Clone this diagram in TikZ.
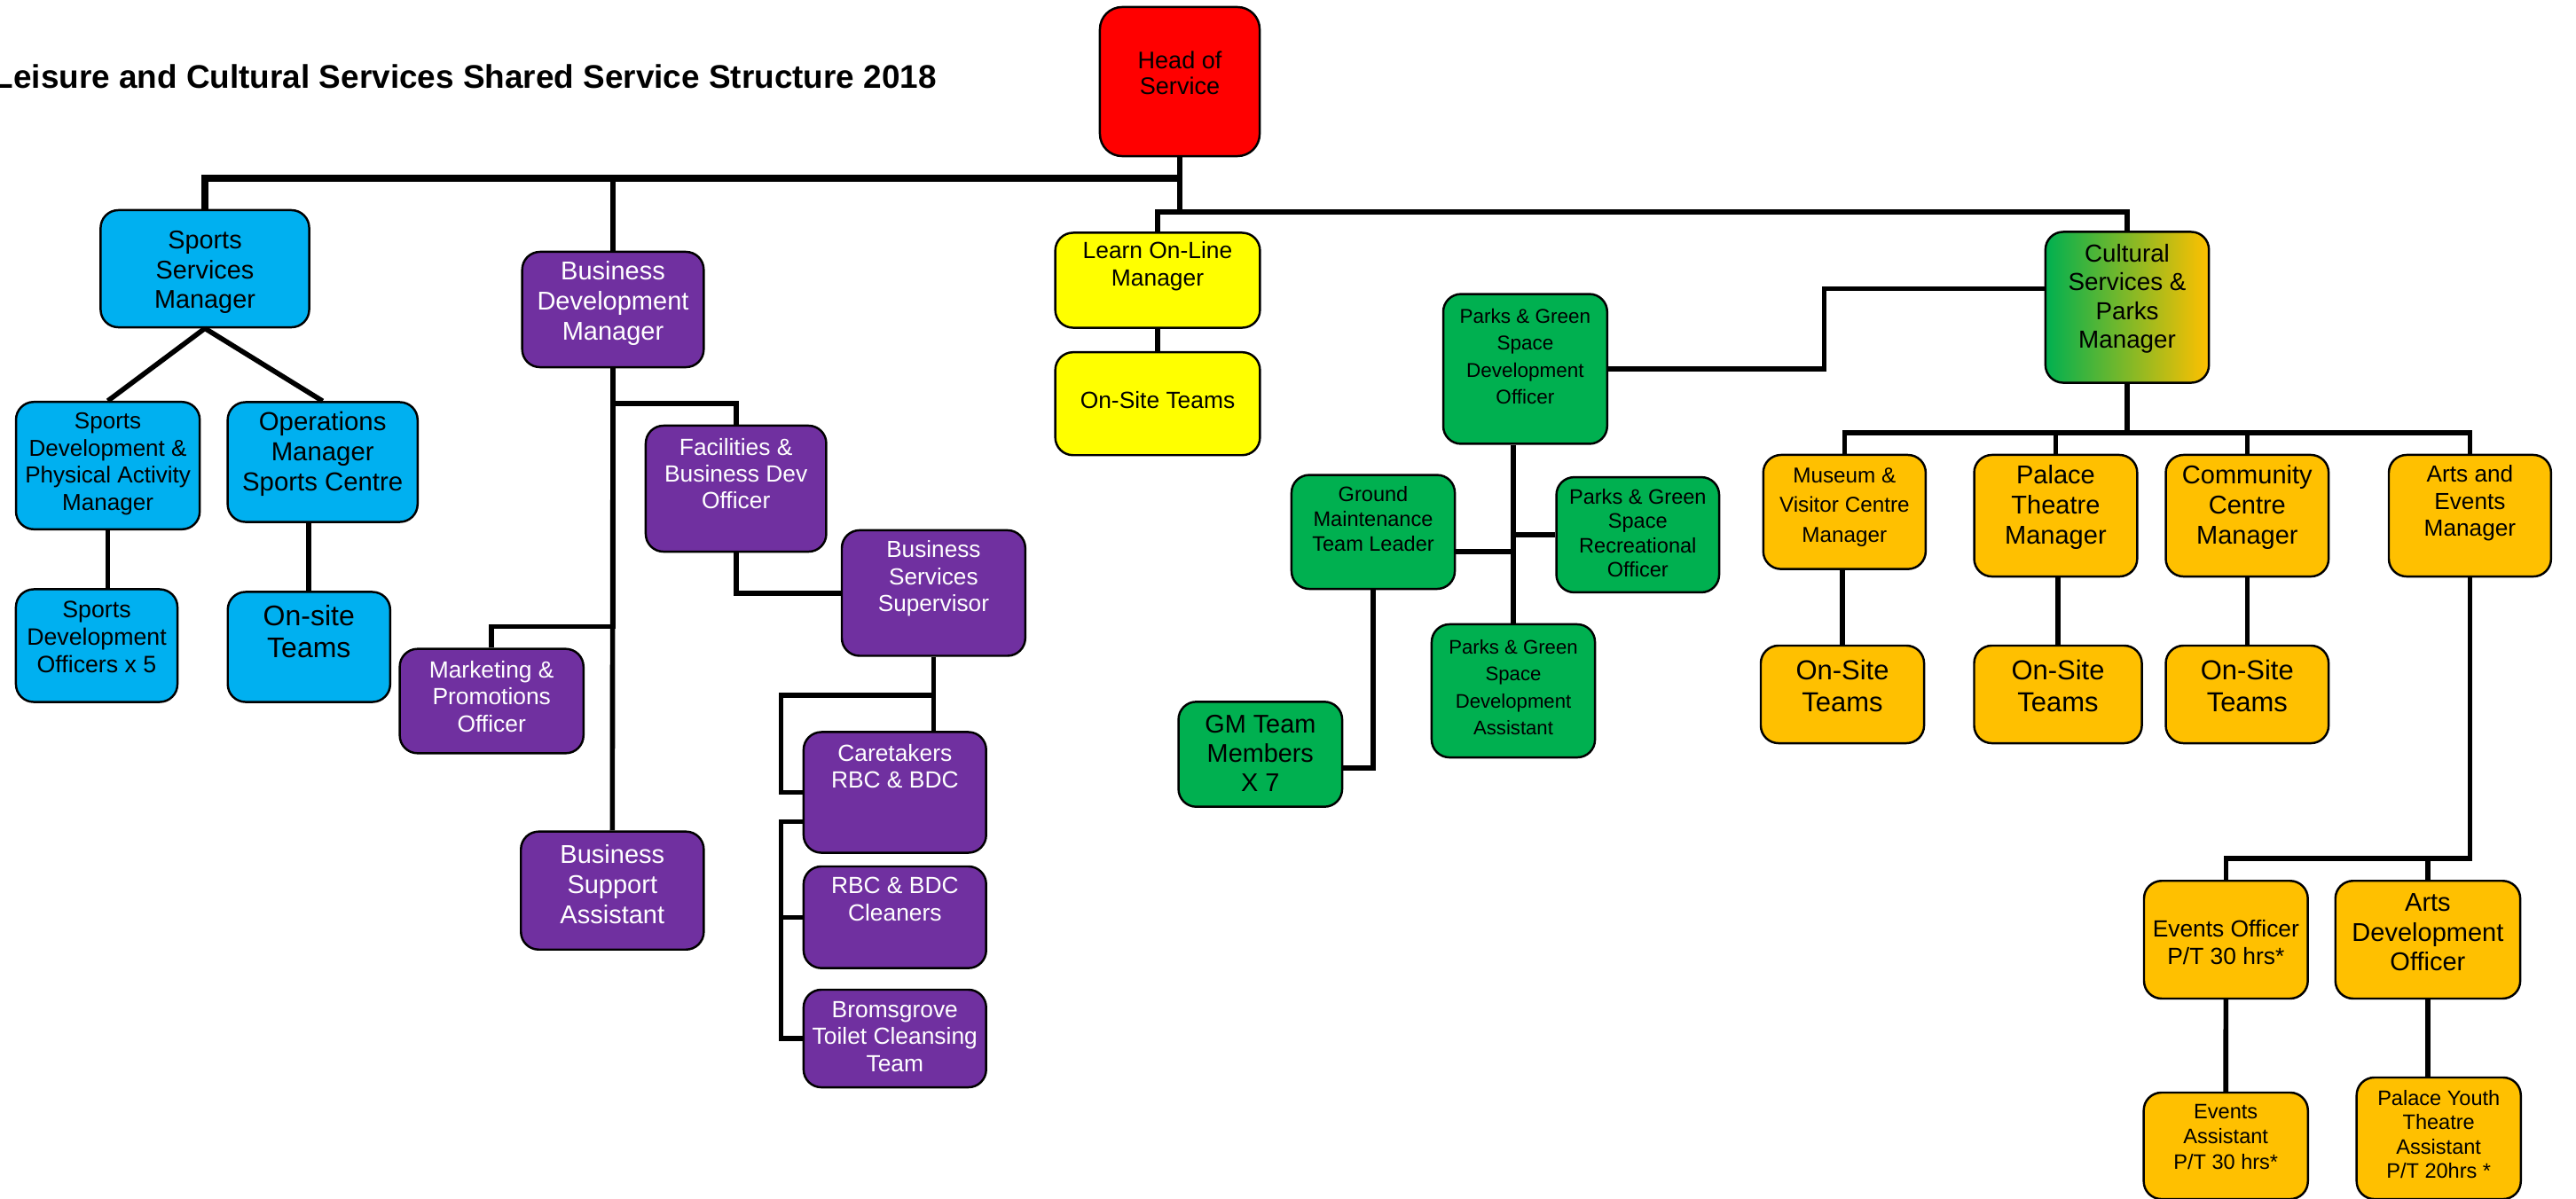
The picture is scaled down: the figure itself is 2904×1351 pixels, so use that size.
\documentclass[tikz,border=0pt]{standalone}
\usepackage{fontspec}
\setmainfont{Liberation Sans}
\usepackage{xcolor}
\usepackage{tikz}
\usetikzlibrary{positioning,calc}

\definecolor{hosred}{HTML}{FF0000}
\definecolor{sportblue}{HTML}{00B0F0}
\definecolor{bizpurple}{HTML}{7030A0}
\definecolor{learnyellow}{HTML}{FFFF00}
\definecolor{parkgreen}{HTML}{00B050}
\definecolor{cultamber}{HTML}{FFC000}

\begin{document}
\begin{tikzpicture}[x=0.01cm, y=-0.01cm,
  box/.style={rectangle, draw, rounded corners=2mm, line width=0.7pt, inner sep=0pt},
  sport/.style={box, fill=sportblue},
  biz/.style={box, fill=bizpurple},
  learnbox/.style={box, fill=learnyellow},
  park/.style={box, fill=parkgreen},
  cult/.style={box, fill=cultamber},
  lbl/.style={align=center, inner sep=0pt},
  wlbl/.style={lbl, text=white},
  link/.style={line width=1.6pt},
  bar/.style={line width=2.2pt}
]
\useasboundingbox (0,0) rectangle (2904,1351);

% Title
\node[anchor=base west, inner sep=0pt, font=\bfseries\fontsize{10.5}{12}\selectfont] (title) at (-8,99)
  {Leisure and Cultural Services Shared Service Structure 2018};

% Head of service
\node[box, fill=hosred, rounded corners=2.5mm, minimum width=1.8cm, minimum height=1.68cm] (head) at (1330,92) {};
\node[lbl, font=\fontsize{7.7}{8.3}\selectfont] (head-t) at (1330,82.5) {Head of\\Service};

% Sports services (blue)
\node[sport, minimum width=2.35cm, minimum height=1.32cm] (ssm) at (231,303) {};
\node[lbl, font=\fontsize{8.2}{9.5}\selectfont] (ssm-t) at (231,307) {Sports\\Services\\Manager};
\node[sport, minimum width=2.07cm, minimum height=1.435cm] (sdpa) at (121.6,525) {};
\node[lbl, font=\fontsize{7.4}{8.7}\selectfont] (sdpa-t) at (121.6,523) {Sports\\Development \&\\Physical Activity\\Manager};
\node[sport, minimum width=2.14cm, minimum height=1.35cm] (ops) at (363.7,521) {};
\node[lbl, font=\fontsize{8.35}{9.6}\selectfont] (ops-t) at (363.7,512) {Operations\\Manager\\Sports Centre};
\node[sport, minimum width=1.82cm, minimum height=1.27cm] (sdo) at (109,728) {};
\node[lbl, font=\fontsize{7.6}{8.8}\selectfont] (sdo-t) at (109,718) {Sports\\Development\\Officers x 5};
\node[sport, minimum width=1.83cm, minimum height=1.24cm] (onsite1) at (348.3,729.5) {};
\node[lbl, font=\fontsize{9.1}{10.4}\selectfont] (onsite1-t) at (348.3,712) {On-site\\Teams};

% Business development (purple)
\node[biz, minimum width=2.045cm, minimum height=1.3cm] (bdm) at (691,349) {};
\node[wlbl, font=\fontsize{8.25}{9.7}\selectfont] (bdm-t) at (691,342) {Business\\Development\\Manager};
\node[biz, minimum width=2.034cm, minimum height=1.42cm] (fac) at (829.7,551) {};
\node[wlbl, font=\fontsize{7.5}{8.6}\selectfont] (fac-t) at (829.7,534) {Facilities \&\\Business Dev\\Officer};
\node[biz, minimum width=2.067cm, minimum height=1.415cm] (bss) at (1052.4,668.7) {};
\node[wlbl, font=\fontsize{7.45}{8.7}\selectfont] (bss-t) at (1052.4,652.5) {Business\\Services\\Supervisor};
\node[biz, minimum width=2.057cm, minimum height=1.36cm] (care) at (1008.8,893.5) {};
\node[wlbl, font=\fontsize{7.5}{8.7}\selectfont] (care-t) at (1008.8,864) {Caretakers\\RBC \& BDC};
\node[biz, minimum width=2.057cm, minimum height=1.146cm] (clean) at (1008.8,1034.3) {};
\node[wlbl, font=\fontsize{7.5}{8.7}\selectfont] (clean-t) at (1008.8,1014) {RBC \& BDC\\Cleaners};
\node[biz, minimum width=2.057cm, minimum height=1.1cm] (toilet) at (1008.8,1171) {};
\node[wlbl, font=\fontsize{7.5}{8.7}\selectfont] (toilet-t) at (1008.8,1169) {Bromsgrove\\Toilet Cleansing\\Team};
\node[biz, minimum width=2.07cm, minimum height=1.176cm] (mkt) at (554.2,790.5) {};
\node[wlbl, font=\fontsize{7.5}{8.7}\selectfont] (mkt-t) at (554.2,785.5) {Marketing \&\\Promotions\\Officer};
\node[biz, minimum width=2.06cm, minimum height=1.33cm] (bsa) at (690.3,1004.2) {};
\node[wlbl, font=\fontsize{8.25}{9.7}\selectfont] (bsa-t) at (690.3,997) {Business\\Support\\Assistant};

% Learn on-line (yellow)
\node[learnbox, minimum width=2.306cm, minimum height=1.07cm] (learn) at (1305,316) {};
\node[lbl, font=\fontsize{7.5}{8.7}\selectfont] (learn-t) at (1305,300) {Learn On-Line\\Manager};
\node[learnbox, minimum width=2.306cm, minimum height=1.16cm] (onsite2) at (1305,455.2) {};
\node[lbl, font=\fontsize{7.5}{8.7}\selectfont] (onsite2-t) at (1305,451) {On-Site Teams};

% Parks and green space (green)
\node[park, minimum width=1.847cm, minimum height=1.688cm] (pgsdo) at (1719.4,416) {};
\node[lbl, font=\fontsize{6.4}{8.7}\selectfont] (pgsdo-t) at (1719.4,402) {Parks \& Green\\Space\\Development\\Officer};
\node[park, minimum width=1.84cm, minimum height=1.284cm] (gmtl) at (1548,599.8) {};
\node[lbl, font=\fontsize{6.7}{8}\selectfont] (gmtl-t) at (1548,585) {Ground\\Maintenance\\Team Leader};
\node[park, minimum width=1.834cm, minimum height=1.298cm] (pgsro) at (1846.3,603) {};
\node[lbl, font=\fontsize{6.7}{7.8}\selectfont] (pgsro-t) at (1846.3,601) {Parks \& Green\\Space\\Recreational\\Officer};
\node[park, minimum width=1.84cm, minimum height=1.5cm] (pgsda) at (1706,779) {};
\node[lbl, font=\fontsize{6.3}{8.7}\selectfont] (pgsda-t) at (1706,775) {Parks \& Green\\Space\\Development\\Assistant};
\node[park, minimum width=1.844cm, minimum height=1.183cm] (gmteam) at (1420.8,850.5) {};
\node[lbl, font=\fontsize{8.2}{9.5}\selectfont] (gmteam-t) at (1420.8,849.5) {GM Team\\Members\\X 7};

% Cultural services (amber)
\node[box, left color=parkgreen, middle color=cultamber!80!parkgreen, right color=cultamber,
  minimum width=1.842cm, minimum height=1.7cm] (cspm) at (2398,346.5) {};
\node[lbl, font=\fontsize{7.9}{9.2}\selectfont] (cspm-t) at (2398,336.7) {Cultural\\Services \&\\Parks\\Manager};
\node[cult, minimum width=1.83cm, minimum height=1.286cm] (museum) at (2079.3,577.3) {};
\node[lbl, font=\fontsize{6.9}{9.5}\selectfont] (museum-t) at (2079.3,572) {Museum \&\\Visitor Centre\\Manager};
\node[cult, minimum width=1.837cm, minimum height=1.37cm] (palace) at (2317.4,581.5) {};
\node[lbl, font=\fontsize{8.25}{9.7}\selectfont] (palace-t) at (2317.4,572) {Palace\\Theatre\\Manager};
\node[cult, minimum width=1.835cm, minimum height=1.37cm] (comm) at (2533.3,581.5) {};
\node[lbl, font=\fontsize{8.25}{9.7}\selectfont] (comm-t) at (2533.3,572) {Community\\Centre\\Manager};
\node[cult, minimum width=1.828cm, minimum height=1.37cm] (arts) at (2784.4,581.5) {};
\node[lbl, font=\fontsize{7.45}{8.7}\selectfont] (arts-t) at (2784.4,567.5) {Arts and\\Events\\Manager};
\node[cult, minimum width=1.84cm, minimum height=1.1cm] (onsite3) at (2077,783) {};
\node[lbl, font=\fontsize{8.8}{10.2}\selectfont] (onsite3-t) at (2077,773) {On-Site\\Teams};
\node[cult, minimum width=1.89cm, minimum height=1.1cm] (onsite4) at (2320,783) {};
\node[lbl, font=\fontsize{8.8}{10.2}\selectfont] (onsite4-t) at (2320,773) {On-Site\\Teams};
\node[cult, minimum width=1.835cm, minimum height=1.1cm] (onsite5) at (2533.3,783) {};
\node[lbl, font=\fontsize{8.8}{10.2}\selectfont] (onsite5-t) at (2533.3,773) {On-Site\\Teams};
\node[cult, minimum width=1.846cm, minimum height=1.327cm] (eo) at (2509.3,1059.6) {};
\node[lbl, font=\fontsize{7.5}{8.8}\selectfont] (eo-t) at (2509.3,1062.7) {Events Officer\\P/T 30 hrs*};
\node[cult, minimum width=2.083cm, minimum height=1.327cm] (ado) at (2736.9,1059.6) {};
\node[lbl, font=\fontsize{8.25}{9.5}\selectfont] (ado-t) at (2736.9,1051.5) {Arts\\Development\\Officer};
\node[cult, minimum width=1.85cm, minimum height=1.2cm] (ea) at (2509.2,1292) {};
\node[lbl, font=\fontsize{6.7}{8.1}\selectfont] (ea-t) at (2509.2,1281.7) {Events\\Assistant\\P/T 30 hrs*};
\node[cult, minimum width=1.85cm, minimum height=1.37cm] (pyta) at (2749.2,1283.5) {};
\node[lbl, font=\fontsize{6.7}{7.8}\selectfont] (pyta-t) at (2749.2,1279) {Palace Youth\\Theatre\\Assistant\\P/T 20hrs *};

% Lines - head of service to the two bars
\draw[link] (head.south) -- ++(0,62);
\draw[bar] (ssm.north) |- ($(head.south)+(0,24)$);
\draw[link] (bdm.north) -- ++(0,-84);
\draw[link] (learn.north) |- ($(head.south)+(0,62)$) -| (cspm.north);

% Lines - sports
\draw[link] (ssm.south) -- (sdpa.north);
\draw[link] (ssm.south) -- (ops.north);
\draw[link] (sdpa.south) -- (sdpa.south |- sdo.north);
\draw[link] (onsite1.north) -- (onsite1.north |- ops.south);

% Lines - business development
\draw[link] (bdm.south) -- (bsa.north);
\draw[link] (fac.north) -- ++(0,-24) -| (bdm.south);
\draw[link] (mkt.north) -- ++(0,-24) -| (bdm.south);
\draw[link] (fac.south) |- (bss.west);
\draw[link] (bss.south) -- (bss.south |- care.north);
\draw[link] (care.west) -- ++(-24,0) |- ($(bss.south)+(0,43)$);
\draw[link] (toilet.west) -- ++(-24,0) |- ($(care.west)+(0,33)$);
\draw[link] (clean.west) -- ++(-24,0);

% Lines - learn on-line
\draw[link] (learn.south) -- (onsite2.north);

% Lines - parks
\draw[link] (pgsdo.east) -| ($(cspm.west)+(-248,-21)$) -- ($(cspm.west)+(0,-21)$);
\draw[link] (pgsda.north) -- (pgsda.north |- pgsdo.south);
\draw[link] ($(gmtl.east)+(0,22)$) -| (pgsda.north);
\draw[link] (pgsro.west) -| (pgsda.north);
\draw[link] (gmtl.south) |- ($(gmteam.east)+(0,15.5)$);

% Lines - cultural services
\draw[link] (cspm.south) -- ++(0,58);
\draw[link] (museum.north) -- ++(0,-23.5) -| (arts.north);
\draw[link] (palace.north) -- ++(0,-23.5);
\draw[link] (comm.north) -- ++(0,-23.5);
\draw[link] (onsite3.north) -- (onsite3.north |- museum.south);
\draw[link] (onsite4.north) -- (onsite4.north |- palace.south);
\draw[link] (onsite5.north) -- (onsite5.north |- comm.south);
\draw[link] (arts.south) |- ($(eo.north)+(0,-24.3)$) -- (eo.north);
\draw[link] (ado.north) -- ++(0,-24.3);
\draw[link] (eo.south) -- (ea.north);
\draw[link] (ado.south) -- (ado.south |- pyta.north);

\end{tikzpicture}
\end{document}
